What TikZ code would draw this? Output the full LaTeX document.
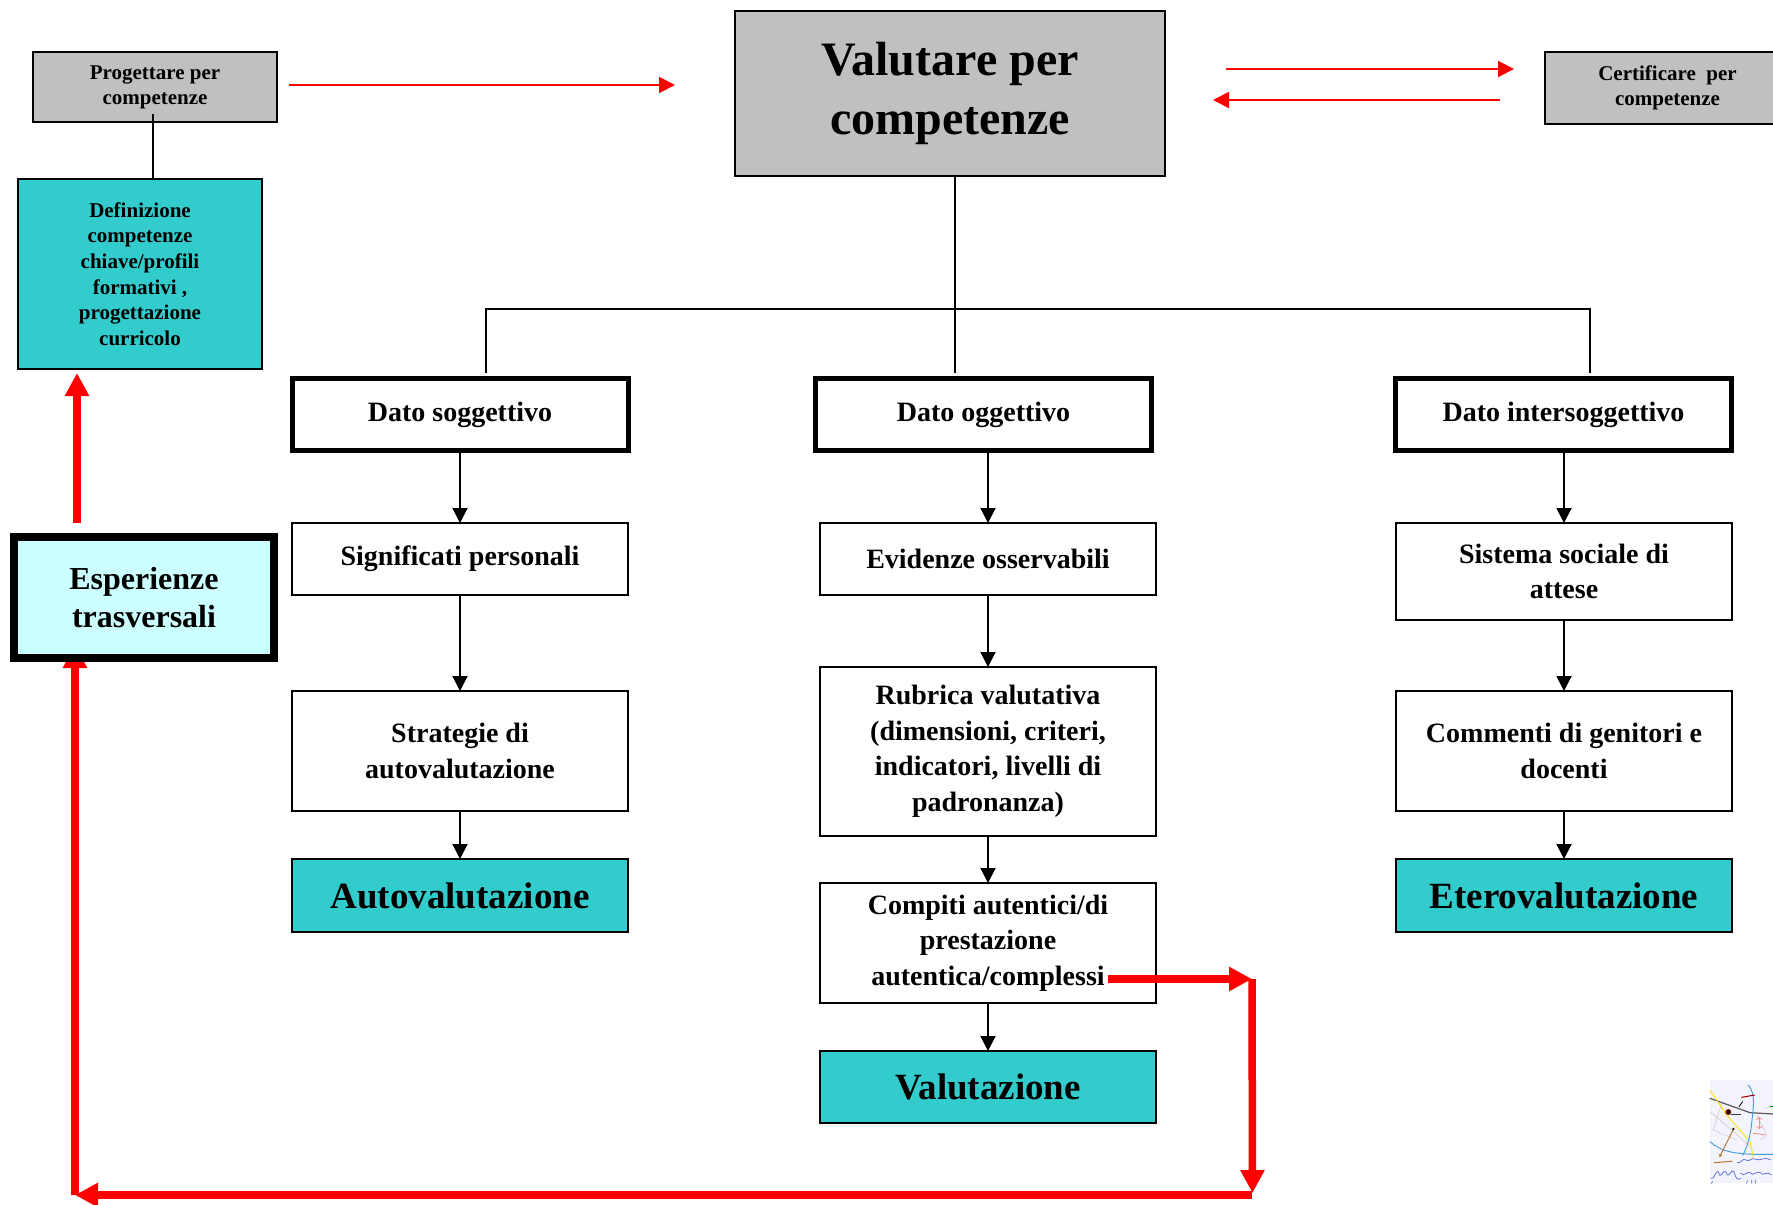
\documentclass[tikz,border=0pt]{standalone}
\usepackage{fontspec}
\setmainfont{Liberation Serif}
\usetikzlibrary{arrows.meta}
\definecolor{boxgray}{HTML}{C0C0C0}
\definecolor{boxteal}{HTML}{33CCCC}
\definecolor{boxcyan}{HTML}{CCFFFF}
\definecolor{mapbg}{HTML}{F3F3FB}
\definecolor{mapblue}{HTML}{3F9BD8}
\definecolor{mapwave}{HTML}{5566DD}
\definecolor{mapbrown}{HTML}{B8742A}
\tikzset{
  base/.style={draw=black,rectangle,align=center,inner sep=0pt,outer sep=0pt,font=\bfseries\fontsize{28}{35.5}\selectfont,line width=2pt},
  graybox/.style={base,fill=boxgray,font=\bfseries\fontsize{21}{25}\selectfont},
  mainbox/.style={base,fill=boxgray,font=\bfseries\fontsize{48}{59}\selectfont},
  defbox/.style={base,fill=boxteal,font=\bfseries\fontsize{21}{25.7}\selectfont},
  resultbox/.style={base,fill=boxteal,font=\bfseries\fontsize{37}{44}\selectfont},
  heavybox/.style={base,fill=white,line width=5pt},
  plainbox/.style={base,fill=white},
  expbox/.style={base,fill=boxcyan,line width=7.5pt,font=\bfseries\fontsize{32}{38}\selectfont},
  thin link/.style={draw=black,line width=2pt},
  flow/.style={draw=black,line width=2pt,-{Triangle[length=15pt,width=15pt]}},
  red thin/.style={draw=red,line width=2pt,-{Triangle[length=16pt,width=16pt]}},
  red thick/.style={draw=red,line width=7.5pt,-{Triangle[length=23pt,width=23pt]}},
}
\begin{document}
\begin{tikzpicture}[x=1pt,y=-1pt]
\useasboundingbox (0,0) rectangle (1773,1205);
\clip (0,0) rectangle (1773,1205);
% free ends
\coordinate (r1) at (1108,979);
\coordinate (r2) at (1252,979);
\coordinate (r3) at (1252,1195);
\coordinate (r3b) at (1252.5,1193);
\coordinate (r4) at (75,1195);
\coordinate (r5) at (75,645);
\coordinate (u1) at (77,523);
\coordinate (u2) at (77,373);
\coordinate (p1) at (153,114);
\coordinate (m1) at (955,175);
\coordinate (j1) at (486,309);
\coordinate (j2) at (1590,309);
\coordinate (e1) at (486,373);
\coordinate (e2) at (955,373);
\coordinate (e3) at (1590,373);
\coordinate (g1) at (289,85);
\coordinate (g2) at (675,85);
\coordinate (c1) at (1226,69);
\coordinate (c2) at (1514,69);
\coordinate (c3) at (1500,100);
\coordinate (c4) at (1213,100);
% arrow that runs under the box it enters
\draw[red thick] (r3) -- (r4);
\draw[red thick] (r4) -- (r5);
% boxes
\node[mainbox,minimum width=430pt,minimum height=165pt] (val) at (950,93.5) {Valutare per\\competenze};
\node[graybox,minimum width=244pt,minimum height=70pt] (prog) at (155,87) {Progettare per\\competenze};
\node[graybox,minimum width=245pt,minimum height=72pt] (cert) at (1667.5,88) {Certificare\ \ per\\competenze};
\node[defbox,minimum width=244pt,minimum height=190pt] (def) at (140,274) {Definizione\\competenze\\chiave/profili\\formativi ,\\progettazione\\curricolo};
\node[expbox,minimum width=260pt,minimum height=121pt] (esp) at (144,597.5) {Esperienze\\trasversali};
\node[heavybox,minimum width=336pt,minimum height=72pt] (dsog) at (460,414.5) {Dato soggettivo};
\node[heavybox,minimum width=336pt,minimum height=72pt] (dogg) at (983.5,414.5) {Dato oggettivo};
\node[heavybox,minimum width=336pt,minimum height=72pt] (dint) at (1563.5,414.5) {Dato intersoggettivo};
\node[plainbox,minimum width=336pt,minimum height=72pt] (sig) at (460,559) {Significati personali};
\node[plainbox,minimum width=336pt,minimum height=72pt] (evi) at (988,559) {Evidenze osservabili};
\node[plainbox,minimum width=336pt,minimum height=97pt] (sis) at (1564,571.5) {Sistema sociale di\\attese};
\node[plainbox,minimum width=336pt,minimum height=120pt] (str) at (460,751) {Strategie di\\autovalutazione};
\node[plainbox,minimum width=336pt,minimum height=169pt] (rub) at (988,751.5) {Rubrica valutativa\\(dimensioni, criteri,\\indicatori, livelli di\\padronanza)};
\node[plainbox,minimum width=336pt,minimum height=120pt] (com) at (1564,751) {Commenti di genitori e\\docenti};
\node[plainbox,minimum width=336pt,minimum height=120pt] (cpt) at (988,943) {Compiti autentici/di\\prestazione\\autentica/complessi};
\node[resultbox,minimum width=336pt,minimum height=73pt] (aut) at (460,895.5) {Autovalutazione};
\node[resultbox,minimum width=336pt,minimum height=73pt] (ete) at (1564,895.5) {Eterovalutazione};
\node[resultbox,minimum width=336pt,minimum height=72pt] (vlt) at (988,1087) {Valutazione};
% black connectors
\draw[thin link] (p1) -- (p1 |- def.north);
\draw[thin link] (m1) -- (e2);
\draw[thin link] (e1) -- (j1) -- (j2) -- (e3);
\draw[flow] (sig.north |- dsog.south) -- (sig.north);
\draw[flow] (sig) ++(0,36) -- (str.north);
\draw[flow] (str) ++(0,60) -- (aut.north);
\draw[flow] (evi.north |- dogg.south) -- (evi.north);
\draw[flow] (evi.south) -- (rub.north);
\draw[flow] (rub.south) -- (cpt.north);
\draw[flow] (cpt.south) -- (vlt.north);
\draw[flow] (sis.north |- dint.south) -- (sis.north);
\draw[flow] (sis.south) -- (com.north);
\draw[flow] (com.south) -- (ete.north);
% red connectors
\draw[red thin] (g1) -- (g2);
\draw[red thin] (c1) -- (c2);
\draw[red thin] (c3) -- (c4);
\draw[red thick] (u1) -- (u2);
\draw[red thick] (r1) -- (r2);
\draw[red thick] (r2) -- (r3b);
% small map picture
\begin{scope}[shift={(1650,1040)},x=0.3333pt,y=-0.3333pt,line cap=round]
\fill[mapbg] (180,120) rectangle (369,430);
\draw[gray!45,line width=0.5pt] (180,215) -- (240,265) -- (300,320);
\draw[gray!45,line width=0.5pt] (215,190) -- (190,270) -- (260,300);
\draw[gray!45,line width=0.5pt] (320,225) -- (350,285) -- (330,300);
\draw[gray!45,line width=0.5pt] (340,205) -- (369,200);
\draw[gray!70!black,line width=1.2pt] (180,175) -- (300,218) -- (369,222);
\draw[yellow!85!orange,line width=0.9pt] (180,150) -- (230,225) -- (300,305) -- (310,350);
\draw[mapblue,line width=0.9pt] (295,135) .. controls (315,160) and (312,190) .. (306,240) .. controls (302,290) and (290,325) .. (278,346);
\draw[mapblue,line width=0.9pt] (180,305) .. controls (215,335) and (250,345) .. (369,343);
\draw[mapbrown,line width=0.9pt,-{Triangle[length=3pt,width=3pt]}] (250,268) -- (208,352);
\fill[red!70!black] (235,216) circle (9);
\fill[black] (235,216) circle (6);
\fill[black] (250,267) circle (4);
\draw[black!80,line width=0.7pt] (243,222) -- (272,222);
\draw[red!60!black,line width=1pt] (275,172) -- (314,165);
\draw[black,line width=0.8pt] (267,200) -- (278,185);
\draw[pink!70!red,line width=0.7pt,<->] (328,230) -- (328,268);
\draw[pink!70!red,line width=0.8pt] (310,280) -- (345,284);
\draw[mapbrown,line width=1pt] (193,368) -- (246,364);
\draw[green!60!black,line width=1pt] (360,198) -- (369,198);
\draw[mapwave,line width=0.7pt] (262,368) .. controls (272,372) and (278,352) .. (288,360) .. controls (298,368) and (305,350) .. (318,358) .. controls (330,365) and (340,348) .. (362,360);
\draw[mapwave,line width=0.7pt] (183,415) .. controls (195,420) and (195,390) .. (205,395) .. controls (212,425) and (218,385) .. (228,395) .. controls (235,425) and (245,380) .. (252,395) .. controls (258,420) and (265,420) .. (272,415);
\draw[mapwave,line width=0.7pt] (272,400) .. controls (285,412) and (290,392) .. (300,398) .. controls (310,412) and (320,390) .. (330,398) .. controls (340,412) and (350,390) .. (364,405);
\draw[mapwave,line width=0.7pt] (290,430) -- (292,420) (305,430) -- (305,420) (316,430) -- (316,420) (184,430) -- (188,425);
\end{scope}
\end{tikzpicture}
\end{document}
